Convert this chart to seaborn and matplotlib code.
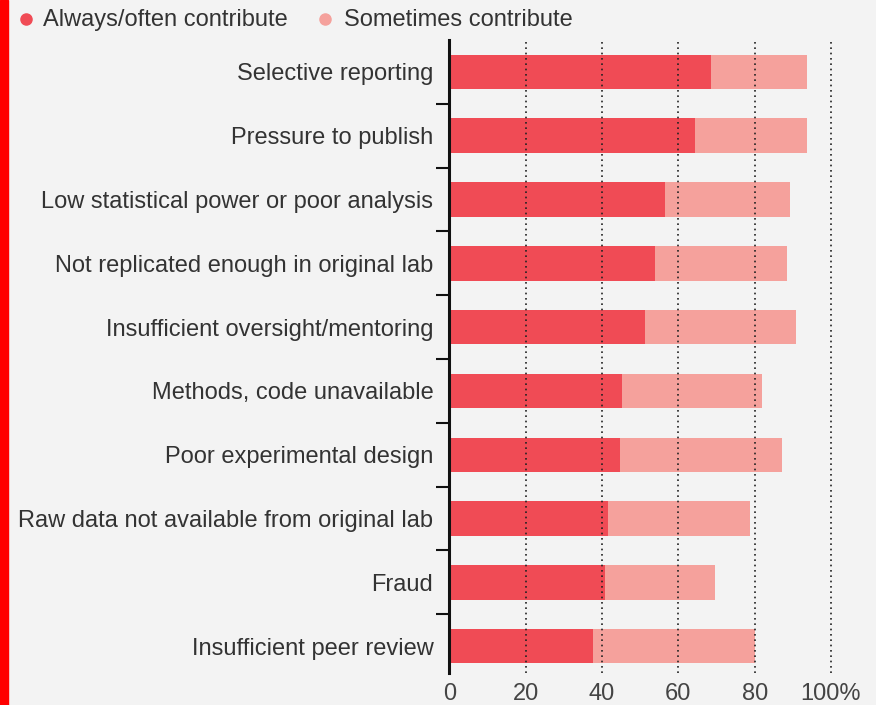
import matplotlib
matplotlib.use("Agg")
import matplotlib.pyplot as plt
from matplotlib.lines import Line2D
import seaborn as sns
import pandas as pd

# Survey data (percent of respondents)
factors = [
    "Selective reporting",
    "Pressure to publish",
    "Low statistical power or poor analysis",
    "Not replicated enough in original lab",
    "Insufficient oversight/mentoring",
    "Methods, code unavailable",
    "Poor experimental design",
    "Raw data not available from original lab",
    "Fraud",
    "Insufficient peer review",
]
always_often = [68.6, 64.5, 56.5, 53.9, 51.3, 45.2, 44.7, 41.7, 40.8, 37.6]
sometimes = [25.1, 29.2, 32.7, 34.6, 39.6, 36.6, 42.5, 37.1, 28.8, 42.5]
x_ticks = [0, 20, 40, 60, 80, 100]
x_tick_labels = ["0", "20", "40", "60", "80", "100%"]
legend_labels = ["Always/often contribute", "Sometimes contribute"]

df = pd.DataFrame({"factor": factors, "always": always_often, "sometimes": sometimes})
df["total"] = df["always"] + df["sometimes"]

dark_red = "#f04b55"
light_red = "#f5a19c"
bg = "#f3f3f3"
text_col = "#333333"

sns.set_style("white")
plt.rcParams["font.family"] = ["Liberation Sans", "DejaVu Sans"]

W, H = 876, 705
fig = plt.figure(figsize=(W / 100, H / 100), dpi=100, facecolor=bg)
ax = fig.add_axes([449.3 / W, 1 - 673 / H, (W - 449.3) / W, (673 - 40) / H])
ax.set_facecolor(bg)

# Stacked bars: total first (light), then always/often on top (dark)
sns.barplot(data=df, x="total", y="factor", color=light_red, orient="h",
            width=0.54, saturation=1, linewidth=0, ax=ax, zorder=2)
sns.barplot(data=df, x="always", y="factor", color=dark_red, orient="h",
            width=0.54, saturation=1, linewidth=0, ax=ax, zorder=3)

# Dotted gridlines drawn over the bars
for t in x_ticks[1:]:
    ax.axvline(t, color="#222222", linestyle=(0, (1, 2.2)), linewidth=1.2, zorder=4)

ax.set_xlim(0, 111.8)
ax.set_ylim(9.42, -0.5)
ax.set_xlabel("")
ax.set_ylabel("")

for side in ["top", "right", "bottom"]:
    ax.spines[side].set_visible(False)
ax.spines["left"].set_linewidth(2.2)
ax.spines["left"].set_color("#111111")
ax.spines["left"].set_zorder(5)

ax.set_xticks(x_ticks)
ax.set_xticklabels(x_tick_labels, fontsize=17, color="#444444")
ax.tick_params(axis="x", length=0, pad=7)

# category labels as major ticks without marks, separator marks as minor ticks
ax.set_yticks(range(len(factors)))
ax.set_yticklabels(factors, fontsize=17, color=text_col)
ax.tick_params(axis="y", which="major", length=0, pad=11.5)
ax.set_yticks([i + 0.5 for i in range(len(factors) - 1)], minor=True)
ax.tick_params(axis="y", which="minor", left=True, length=9.5, width=1.5,
               color="#111111")

# legend row at the top, placed by hand
for (mx, tx), col, lab in zip([(26, 43), (325, 344)], [dark_red, light_red], legend_labels):
    fig.add_artist(Line2D([mx / W], [1 - 19 / H], transform=fig.transFigure,
                          marker="o", markersize=8, color=col, linestyle=""))
    fig.text(tx / W, 1 - 20 / H, lab, fontsize=17, color=text_col,
             ha="left", va="center")

# red strip on the left edge
fig.add_artist(plt.Rectangle((0, 0), 8 / W, 1, transform=fig.transFigure,
                             color="#ff0000", zorder=10))

fig.savefig("out.png", dpi=100, facecolor=bg)
